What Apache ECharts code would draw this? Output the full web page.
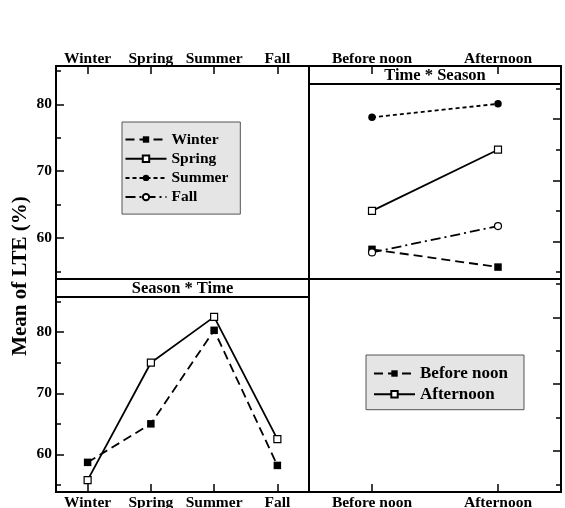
<!DOCTYPE html>
<html>
<head>
<meta charset="utf-8">
<script src="https://cdn.jsdelivr.net/npm/echarts@6/dist/echarts.min.js"></script>
<style>
  html, body { margin: 0; padding: 0; background: #fff; }
  #chart { width: 565px; height: 508px; }
</style>
</head>
<body>
<div id="chart"></div>
<script>
// ---- data ----
const seasons = ['Winter', 'Spring', 'Summer', 'Fall'];
const times = ['Before noon', 'Afternoon'];
const beforeNoon = [58.7, 65.0, 80.3, 58.2];
const afternoon = [55.8, 75.0, 82.5, 62.5];
const majorTicks = [60, 70, 80];
const minorTicks = [55, 65, 75, 85];
const yTitle = 'Mean of LTE (%)';
const stripTitles = ['Time * Season', 'Season * Time'];

// ---- layout ----
const FONT = '"Liberation Serif", "Times New Roman", serif';
const L = 56, M = 309, R = 561, T = 66, H = 279, B = 492, STRIP = 18;
const panelH = H - T;
const fullRange = [53.85, 85.75];
// panels with a header strip keep the same scale below the strip
const stripRange = [fullRange[0], fullRange[0] + (fullRange[1] - fullRange[0]) * panelH / (panelH - STRIP)];

const lineStyles = {
  'Winter':      { dash: [9, 5],         symbol: 'rect',   fill: '#000' },
  'Spring':      { dash: 'solid',        symbol: 'rect',   fill: '#fff' },
  'Summer':      { dash: [4, 3],         symbol: 'circle', fill: '#000' },
  'Fall':        { dash: [10, 4, 2, 4],  symbol: 'circle', fill: '#fff' },
  'Before noon': { dash: [9, 5],         symbol: 'rect',   fill: '#000' },
  'Afternoon':   { dash: 'solid',        symbol: 'rect',   fill: '#fff' }
};

const labelFont = { fontFamily: FONT, fontWeight: 'bold', fontSize: 15.5, color: '#000' };

function grid(left, top, width, height) {
  return {
    left, top, width, height, show: true, borderColor: '#000', borderWidth: 2,
    backgroundColor: 'transparent', containLabel: false, outerBoundsMode: 'none'
  };
}

function catAxis(gridIndex, position, data) {
  return {
    type: 'category', gridIndex, position, data, boundaryGap: true,
    axisLine: { show: false, onZero: false },
    axisTick: { show: true, inside: true, length: 8, alignWithLabel: true, interval: 0, lineStyle: { color: '#000', width: 1.5 } },
    axisLabel: Object.assign({ interval: 0, hideOverlap: false, margin: position === 'top' ? -1 : 3 }, labelFont),
    splitLine: { show: false }
  };
}

function valAxis(gridIndex, position, range, ticks, len, withLabels) {
  return {
    type: 'value', gridIndex, position, min: range[0], max: range[1],
    axisLine: { show: false, onZero: false },
    axisTick: { show: true, inside: true, length: len, customValues: ticks, lineStyle: { color: '#000', width: 1.5 } },
    axisLabel: withLabels ? Object.assign({ show: true, margin: 4, customValues: ticks }, labelFont) : { show: false },
    splitLine: { show: false }
  };
}

function lineSeries(name, data, xAxisIndex, yAxisIndex) {
  const st = lineStyles[name];
  return {
    type: 'line', name, data, xAxisIndex, yAxisIndex,
    symbol: st.symbol, symbolSize: st.fill === '#000' ? 7.5 : 7, showSymbol: true,
    lineStyle: { color: '#000', width: 1.8, type: st.dash },
    itemStyle: { color: st.fill, borderColor: '#000', borderWidth: st.fill === '#fff' ? 1.2 : 0 },
    emphasis: { disabled: true }
  };
}

function legend(data, left, top, padding, fontSize, gap) {
  return {
    data, orient: 'vertical', left, top, padding, itemGap: gap,
    itemWidth: 41, itemHeight: 8, selectedMode: false,
    backgroundColor: '#e5e5e5', borderColor: '#555', borderWidth: 1, borderRadius: 0,
    textStyle: { fontFamily: FONT, fontWeight: 'bold', fontSize, color: '#000', lineHeight: fontSize }
  };
}

const series = [];
seasons.forEach((s, i) => series.push(lineSeries(s, [beforeNoon[i], afternoon[i]], 1, 2)));
series.push(lineSeries(times[0], beforeNoon, 2, 4));
series.push(lineSeries(times[1], afternoon, 2, 4));

const option = {
  animation: false,
  backgroundColor: '#fff',
  grid: [
    grid(L, T, M - L, panelH),
    grid(M, T, R - M, panelH),
    grid(L, H, M - L, B - H),
    grid(M, H, R - M, B - H)
  ],
  xAxis: [
    catAxis(0, 'top', seasons),
    catAxis(1, 'top', times),
    catAxis(2, 'bottom', seasons),
    catAxis(3, 'bottom', times)
  ],
  yAxis: [
    valAxis(0, 'left', fullRange, majorTicks, 8, true),
    valAxis(0, 'left', fullRange, minorTicks, 5, false),
    valAxis(1, 'right', stripRange, majorTicks, 8, false),
    valAxis(1, 'right', stripRange, minorTicks, 5, false),
    valAxis(2, 'left', stripRange, majorTicks, 8, true),
    valAxis(2, 'left', stripRange, minorTicks, 5, false),
    valAxis(3, 'right', fullRange, majorTicks, 8, false),
    valAxis(3, 'right', fullRange, minorTicks, 5, false)
  ],
  legend: [
    legend(seasons, 122, 122, [9.5, 12, 9, 2.5], 15.5, 3.2),
    legend(times, 366, 355, [10, 16, 7, 7], 17, 3.7)
  ],
  graphic: [
    { type: 'rect', shape: { x: M, y: T, width: R - M, height: STRIP }, style: { fill: 'none', stroke: '#000', lineWidth: 2 }, z: 10 },
    { type: 'text', x: (M + R) / 2, y: T + STRIP / 2 + 0.5, style: { text: stripTitles[0], font: 'bold 16.5px ' + FONT, fill: '#000', align: 'center', verticalAlign: 'middle' }, z: 10 },
    { type: 'rect', shape: { x: L, y: H, width: M - L, height: STRIP }, style: { fill: 'none', stroke: '#000', lineWidth: 2 }, z: 10 },
    { type: 'text', x: (L + M) / 2, y: H + STRIP / 2 + 0.5, style: { text: stripTitles[1], font: 'bold 16.5px ' + FONT, fill: '#000', align: 'center', verticalAlign: 'middle' }, z: 10 },
    { type: 'text', x: 21, y: 276, rotation: Math.PI / 2, style: { text: yTitle, font: 'bold 21px ' + FONT, fill: '#000', align: 'center', verticalAlign: 'middle' }, z: 10 }
  ],
  series
};

const chart = echarts.init(document.getElementById('chart'), null, { renderer: 'canvas' });
chart.setOption(option);
</script>
</body>
</html>
